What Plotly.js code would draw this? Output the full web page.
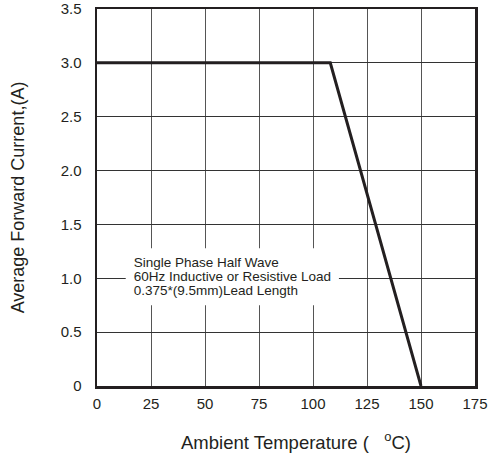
<!DOCTYPE html>
<html>
<head>
<meta charset="utf-8">
<script src="https://cdn.plot.ly/plotly-3.0.1.min.js"></script>
<style>html,body{margin:0;padding:0;background:#fff;}#chart{width:489px;height:457px;}</style>
</head>
<body>
<div id="chart"></div>
<script>
var temperature = [0, 108, 150];
var current = [3.0, 3.0, 0];
var xTickVals = [0, 25, 50, 75, 100, 125, 150, 175];
var yTickVals = [0, 0.5, 1.0, 1.5, 2.0, 2.5, 3.0, 3.5];
var yTickText = ["0", "0.5", "1.0", "1.5", "2.0", "2.5", "3.0", "3.5"];
var noteLines = ["Single Phase Half Wave", "60Hz Inductive or Resistive Load", "0.375*(9.5mm)Lead Length"];
var noteX = [17, 17, 17];
var noteY = [1.14, 1.01, 0.88];

var font = "Liberation Sans, Arial, sans-serif";
var ink = "#231f20";
var curve = {
  x: temperature, y: current, mode: "lines", type: "scatter",
  line: {color: ink, width: 3}, hoverinfo: "skip", showlegend: false
};
var note = {
  x: noteX, y: noteY, text: noteLines, mode: "text", type: "scatter",
  textposition: "middle right", cliponaxis: false,
  textfont: {size: 13.5, family: font, color: ink},
  hoverinfo: "skip", showlegend: false
};
var layout = {
  width: 489, height: 457,
  margin: {l: 97, r: 14, t: 9, b: 71},
  paper_bgcolor: "#fff", plot_bgcolor: "#fff",
  font: {family: font, color: ink, size: 15},
  xaxis: {
    range: [0, 175], tickvals: xTickVals, ticks: "", showgrid: true,
    gridcolor: "#555", gridwidth: 1, zeroline: false,
    showline: true, mirror: true, linecolor: ink, linewidth: 2.5,
    ticklabelstandoff: 2, tickfont: {size: 15, family: font}
  },
  yaxis: {
    range: [0, 3.5], tickvals: yTickVals, ticktext: yTickText, ticks: "", showgrid: true,
    gridcolor: "#333", gridwidth: 1, zeroline: false,
    showline: true, mirror: true, linecolor: ink, linewidth: 2.5,
    ticklabelstandoff: 10, tickfont: {size: 15, family: font},
    title: {text: "Average Forward Current,(A)", font: {size: 18, family: font}, standoff: 32}
  },
  shapes: [{
    type: "rect", xref: "x", yref: "y", layer: "between",
    x0: 13.3, x1: 112.0, y0: 0.75, y1: 1.28,
    fillcolor: "#fff", line: {width: 0}
  }],
  annotations: [{
    x: 0.218, y: -0.145, xref: "paper", yref: "paper", xanchor: "left", yanchor: "middle",
    text: "Ambient Temperature (   <sup>o</sup>C)", showarrow: false,
    font: {size: 18.5, family: font, color: ink}
  }]
};
Plotly.newPlot("chart", [curve, note], layout, {displayModeBar: false, staticPlot: true});
</script>
</body>
</html>
